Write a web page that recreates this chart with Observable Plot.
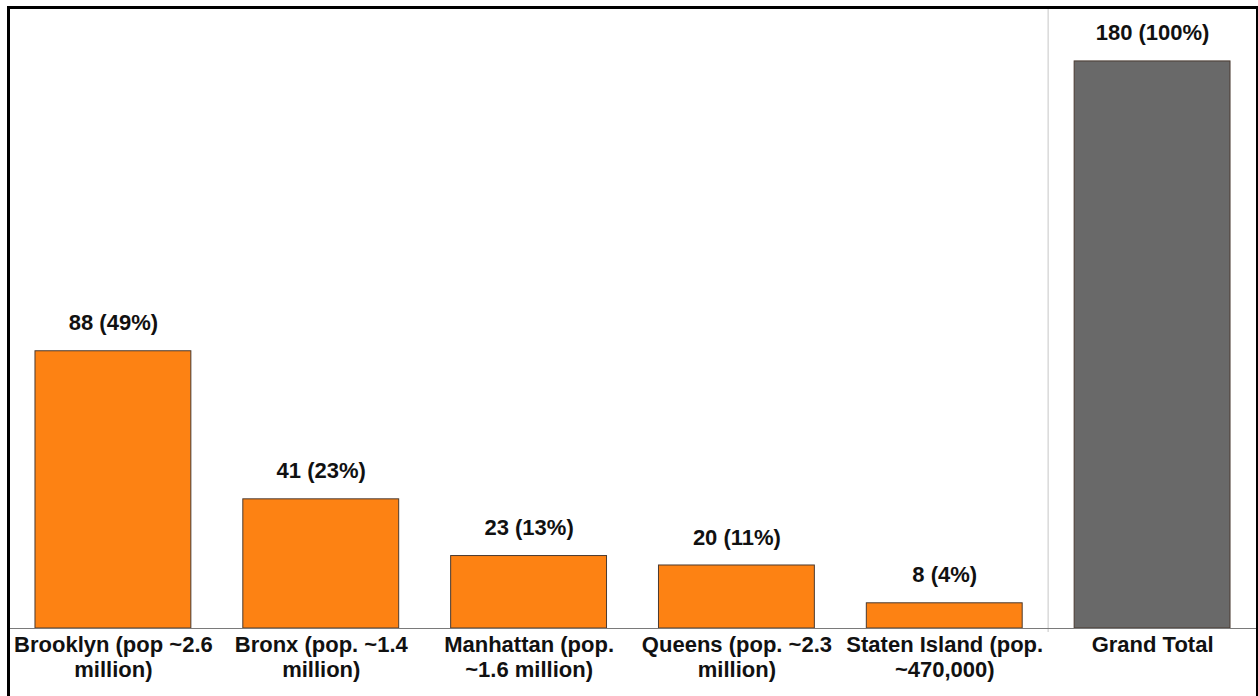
<!DOCTYPE html>
<html>
<head>
<meta charset="utf-8">
<script src="https://cdn.jsdelivr.net/npm/d3@7"></script>
<script src="https://cdn.jsdelivr.net/npm/@observablehq/plot@0.6"></script>
<style>
  html, body { margin: 0; padding: 0; background: #fff; }
  #wrap { position: relative; width: 1258px; height: 696px; overflow: hidden; }
  #chart { position: absolute; left: 0; top: 0; }
  #border {
    position: absolute; left: 7px; top: 6px; right: 0; bottom: -10px;
    box-sizing: border-box;
    border-left: 3px solid #000; border-top: 3px solid #000; border-right: 2px solid #000;
    pointer-events: none;
  }
</style>
</head>
<body>
<div id="wrap"><div id="chart"></div><div id="border"></div></div>
<script>
// Borough counts and their share of the total
const categories = [
  "Brooklyn (pop ~2.6 million)",
  "Bronx (pop. ~1.4 million)",
  "Manhattan (pop. ~1.6 million)",
  "Queens (pop. ~2.3 million)",
  "Staten Island (pop. ~470,000)",
  "Grand Total"
];
const tickLabels = [
  "Brooklyn (pop ~2.6\nmillion)",
  "Bronx (pop. ~1.4\nmillion)",
  "Manhattan (pop.\n~1.6 million)",
  "Queens (pop. ~2.3\nmillion)",
  "Staten Island (pop.\n~470,000)",
  "Grand Total"
];
const counts = [88, 41, 23, 20, 8, 180];
const percents = [49, 23, 13, 11, 4, 100];
const isTotal = [false, false, false, false, false, true];

const rows = categories.map((c, i) => ({
  category: c,
  count: counts[i],
  pct: percents[i],
  total: isTotal[i]
}));

const PAD = 0.25;
const font = "'Liberation Sans', Arial, Helvetica, sans-serif";

// Light separator between the boroughs and the total column
function separator(index, scales, values, dims) {
  const x = scales.x;
  const a = x(categories[4]), b = x(categories[5]);
  const step = b - a;
  const xb = b - step * PAD / 2;
  const g = d3.create("svg:g");
  g.append("line")
    .attr("x1", xb).attr("x2", xb)
    .attr("y1", dims.marginTop).attr("y2", dims.height - dims.marginBottom + 4)
    .attr("stroke", "#d9d9d9").attr("stroke-width", 1.5);
  return g.node();
}

const chart = Plot.plot({
  width: 1258,
  height: 696,
  marginLeft: 9,
  marginRight: 2,
  marginTop: 8,
  marginBottom: 68,
  style: { fontFamily: font, background: "#fff", color: "#000", overflow: "visible" },
  x: { domain: categories, paddingInner: PAD, paddingOuter: PAD / 2, round: false, label: null },
  y: { domain: [0, 196.8], axis: null },
  marks: [
    separator,
    Plot.barY(rows, {
      x: "category",
      y: "count",
      fill: d => d.total ? "#696969" : "#fd8213",
      stroke: "#4a3a30",
      strokeWidth: 1
    }),
    Plot.ruleY([0], { stroke: "#7a7a7a", strokeWidth: 1.2 }),
    Plot.text(rows, {
      x: "category",
      y: "count",
      text: d => `${d.count} (${d.pct}%)`,
      dy: -28,
      fontSize: 22,
      fontWeight: "bold",
      fill: "#111"
    }),
    Plot.axisX({
      tickSize: 0,
      tickPadding: 6,
      fontSize: 22,
      fontWeight: "bold",
      lineHeight: 1.14,
      fill: "#111",
      tickFormat: c => tickLabels[categories.indexOf(c)],
      label: null
    })
  ]
});
document.getElementById("chart").appendChild(chart);
</script>
</body>
</html>
